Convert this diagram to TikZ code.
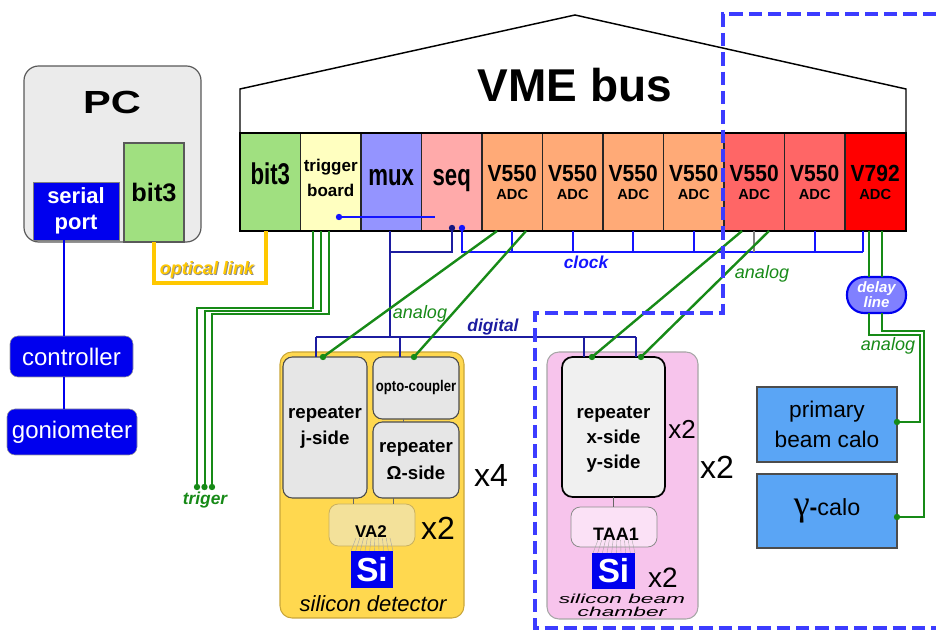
\documentclass[tikz,border=0pt]{standalone}
\usepackage{fontspec}
\setmainfont{Liberation Sans}
\newfontfamily\narrowf[FakeStretch=0.74]{Liberation Sans}
\newfontfamily\vfont[FakeStretch=0.9]{Liberation Sans}
\newfontfamily\optof[FakeStretch=0.85]{Liberation Sans}
\newfontfamily\serifg{Liberation Serif}
\usetikzlibrary{calc}
\newcommand{\setfs}[1]{\fontsize{#1}{#1}\selectfont}
\definecolor{pcgray}{HTML}{EBEBEB}
\definecolor{bitgreen}{HTML}{A0E080}
\definecolor{trigyellow}{HTML}{FFFFC0}
\definecolor{muxblue}{HTML}{9494FF}
\definecolor{seqpink}{HTML}{FFAAAA}
\definecolor{adcorange}{HTML}{FFAA77}
\definecolor{adcred}{HTML}{FF6666}
\definecolor{vred}{HTML}{FF0000}
\definecolor{serblue}{HTML}{0000EE}
\definecolor{wgreen}{HTML}{178A17}
\definecolor{navy}{HTML}{1C1CA0}
\definecolor{clockb}{HTML}{1414FF}
\definecolor{optyellow}{HTML}{FFC800}
\definecolor{detyellow}{HTML}{FFD84F}
\definecolor{detborder}{HTML}{C9A63A}
\definecolor{repgray}{HTML}{E6E6E6}
\definecolor{vatan}{HTML}{F3E19A}
\definecolor{vaborder}{HTML}{C8B060}
\definecolor{chpink}{HTML}{F7C4EC}
\definecolor{taapink}{HTML}{FBE1F6}
\definecolor{calob}{HTML}{5AA5F5}
\definecolor{delayb}{HTML}{8080FF}
\definecolor{dashb}{HTML}{3C3CFF}
\definecolor{xrepfill}{HTML}{F0F0F0}
\begin{document}
\begin{tikzpicture}[x=0.75pt,y=-0.75pt,
  every node/.style={inner sep=0pt,outer sep=0pt},
  slot/.style={draw=black!85,line width=0.9pt,minimum width=45.4pt,minimum height=73.5pt},
  bigtxt/.style={anchor=base,font=\narrowf\bfseries\setfs{22.5}},
  adctxt/.style={align=center,font=\bfseries\fontsize{11}{13.5}\selectfont},
  ctrlbox/.style={draw=black!40,fill=serblue,rounded corners=6pt,text=white,font=\setfs{18}},
  rep/.style={draw=black!70,line width=0.8pt,fill=repgray,rounded corners=7pt},
  sibox/.style={fill=serblue,text=white,font=\bfseries\setfs{25}},
  calo/.style={draw=black!70,line width=0.8pt,fill=calob,minimum width=105pt},
  digi/.style={draw=navy,line width=1.7pt},
  clk/.style={draw=clockb,line width=1.7pt},
  ana/.style={draw=wgreen,line width=1.8pt},
  trig/.style={draw=wgreen,line width=1.5pt},
  opt/.style={draw=optyellow,line width=2.6pt},
  serline/.style={draw=serblue,line width=1.9pt},
  thinc/.style={draw=black!60,line width=0.7pt},
  fan/.style={draw=black!35,line width=0.3pt},
  lbl/.style={font=\itshape\setfs{13.5},text=wgreen},
  mult/.style={font=\setfs{24}}]
\useasboundingbox (0,0) rectangle (936,630);

% ---------------- PC ----------------
\node[draw=black!65,line width=0.9pt,fill=pcgray,rounded corners=11pt,minimum width=132.75pt,minimum height=132pt] (pc) at (112.5,154) {};
\node[font=\bfseries\setfs{24}] (pct) at (112,102) {\scalebox{1.3}[1]{PC}};
\node[draw=black!50,line width=0.6pt,fill=serblue,minimum width=64.5pt,minimum height=43.5pt,text=white,align=center,font=\bfseries\fontsize{16.5}{19.5}\selectfont] (serial) at (76,211) {serial\\port};
\node[draw=black!65,line width=0.9pt,fill=bitgreen,minimum width=45pt,minimum height=74.25pt,font=\bfseries\setfs{19}] (pcbit) at (154,192.5) {bit3};

\node[ctrlbox,minimum width=92.25pt,minimum height=30.75pt] (ctrl) at (71.5,356.5) {controller};
\node[ctrlbox,minimum width=97.5pt,minimum height=34.5pt] (gonio) at (72,432) {goniometer};
\coordinate (serx) at (64,0);
\draw[serline] (serial.south -| serx) -- (ctrl.north -| serx);
\draw[serline] (ctrl.south -| serx) -- (gonio.north -| serx);

% ---------------- VME ----------------
\draw[line width=1.1pt,fill=white] (240,133) -- (240,89) -- (575,15) -- (906,89) -- (906,133);
\node[font=\bfseries\setfs{34.5}] (vme) at (575,85) {VME bus};

\node[slot,fill=bitgreen] (s1) at (270.25,182) {};
\node[slot,fill=trigyellow] (s2) at (330.75,182) {};
\node[slot,fill=muxblue] (s3) at (391.25,182) {};
\node[slot,fill=seqpink] (s4) at (451.75,182) {};
\node[slot,fill=adcorange] (s5) at (512.25,182) {};
\node[slot,fill=adcorange] (s6) at (572.75,182) {};
\node[slot,fill=adcorange] (s7) at (633.25,182) {};
\node[slot,fill=adcorange] (s8) at (693.75,182) {};
\node[slot,fill=adcred] (s9) at (754.25,182) {};
\node[slot,fill=adcred] (s10) at (814.75,182) {};
\node[slot,fill=vred] (s11) at (875.25,182) {};
\draw[line width=1.3pt] (240,133) rectangle (906,231);

\node[bigtxt] (t1) at (270.25,185) {bit3};
\node[align=center,font=\bfseries\fontsize{12.75}{18.4}\selectfont] (t2) at (330.75,178) {trigger\\board};
\node[bigtxt] (t3) at (391.25,185.5) {mux};
\node[bigtxt] (t4) at (451.75,186) {seq};
\foreach \i/\x in {5/512.25,6/572.75,7/633.25,8/693.75,9/754.25,10/814.75} {
  \node[adctxt] (v\i) at (\x,182.2) {{\vfont\setfs{17.5}V550}\\ADC};
}
\node[adctxt] (v11) at (875.25,182.2) {{\vfont\setfs{17.5}V792}\\ADC};

% trigger board internal line
\coordinate (tb1) at (339,217);
\coordinate (tb2) at (435,217);
\draw[clk] (tb1) -- (tb2);
\fill[clockb] (tb1) circle (2.4pt);

% ---------------- silicon detector ----------------
\node[draw=detborder,line width=0.8pt,fill=detyellow,rounded corners=9pt,minimum width=138pt,minimum height=199.5pt] (det) at (372,485) {};
\node[rep,minimum width=63pt,minimum height=105.75pt,align=center,font=\bfseries\fontsize{14}{20}\selectfont] (jrep) at (325,427.5) {repeater\\j-side};
\node[rep,minimum width=64.5pt,minimum height=46.5pt,font=\optof\bfseries\setfs{11.6}] (opto) at (416,388) {opto-coupler};
\node[rep,minimum width=64.5pt,minimum height=57pt,align=center,font=\bfseries\fontsize{14}{20}\selectfont] (orep) at (416,460) {repeater\\Ω-side};
\node[draw=vaborder,line width=0.6pt,fill=vatan,rounded corners=7pt,minimum width=64.5pt,minimum height=31.5pt] (va2) at (372,525) {};
\foreach \i in {0,...,9} \draw[fan] ({356+\i*34/9},538) -- ({351+\i*42/9},551);
\node[font=\bfseries\setfs{12.75}] (va2t) at (371,532) {VA2};
\node[sibox,minimum width=31.5pt,minimum height=27.75pt] (si1) at (372,569.5) {Si};
\node[font=\itshape\setfs{16.5}] (sdt) at (373,604) {silicon detector};
\node[mult] (x4) at (491,475) {x4};
\node[mult] (x2a) at (438,528) {x2};
\path ($(jrep.south)+(28,0)$) coordinate (q1);
\draw[thinc] (q1) -- (q1 |- va2.north);
\path ($(orep.south)+(-23,0)$) coordinate (q2);
\draw[thinc] (q2) -- (q2 |- va2.north);
\path ($(opto.south)+(-13,0)$) coordinate (q3);
\draw[thinc] (q3) -- (q3 |- orep.north);

% ---------------- beam chamber ----------------
\node[draw=black!35,line width=0.8pt,fill=chpink,rounded corners=9pt,minimum width=113.25pt,minimum height=200.25pt] (ch) at (622.5,485.5) {};
\node[draw=black,line width=1.3pt,fill=xrepfill,rounded corners=8pt,minimum width=77.25pt,minimum height=105pt] (xrep) at (613.5,427) {};
\node[align=center,font=\bfseries\fontsize{14}{18.75}\selectfont] (xrept) at (613.5,439) {repeater\\x-side\\y-side};
\node[draw=black!45,line width=0.6pt,fill=taapink,rounded corners=7pt,minimum width=64.5pt,minimum height=30pt] (taa) at (614,527) {};
\draw[thinc] (xrep.south) -- (xrep.south |- taa.north);
\foreach \i in {0,...,9} \draw[fan] ({598+\i*34/9},540) -- ({593+\i*42/9},553);
\node[font=\bfseries\setfs{13.5}] (taat) at (616,534) {TAA1};
\node[sibox,minimum width=32.25pt,minimum height=27pt] (si2) at (613.5,571) {Si};
\node[font=\itshape\setfs{9.75}] (cht1) at (622,599) {\scalebox{1.75}[1]{silicon beam}};
\node[font=\itshape\setfs{9.75}] (cht2) at (622,612) {\scalebox{1.75}[1]{chamber}};
\node[font=\setfs{19.5}] (x2b) at (682,429) {x2};
\node[mult] (x2c) at (717,467) {x2};
\node[font=\setfs{21}] (x2d) at (663,578) {x2};

% ---------------- calos & delay line ----------------
\node[calo,minimum height=56.25pt,align=center,font=\fontsize{17}{23}\selectfont] (primary) at (827,424.5) {primary\\beam calo};
\node[calo,minimum height=55.5pt,font=\setfs{17.5}] (gamma) at (827,511) {{\serifg\setfs{27}γ}{\bfseries -}calo};
\node[draw=serblue,line width=1.6pt,fill=delayb,rounded corners=13pt,minimum width=44.25pt,minimum height=27pt,text=white,align=center,font=\bfseries\itshape\fontsize{11.25}{11.25}\selectfont] (delay) at (876.5,295) {delay\\line};

% ---------------- digital wiring ----------------
\coordinate (sq1) at (452,228);
\coordinate (sq2) at (462,228);
\coordinate (dgk) at (390,252);
\coordinate (muxb) at (390,231);
\coordinate (dmux) at (390,337);
\coordinate (dbusL) at (316,337);
\coordinate (dbusR) at (636,337);
\coordinate (dopt) at (400,337);
\coordinate (dx1) at (584,337);
\draw[digi] (sq1) |- (dgk);
\draw[digi] (muxb) -- (dmux);
\draw[digi] (dbusL) -- (dbusR);
\draw[digi] (dbusL) -- (dbusL |- jrep.north);
\draw[digi] (dopt) -- (dopt |- opto.north);
\draw[digi] (dx1) -- (dx1 |- xrep.north);
\draw[digi] (dbusR) -- (dbusR |- xrep.north);
\fill[navy!80!black] (sq1) circle (2.4pt);
\node[font=\bfseries\itshape\setfs{13},text=navy] (digl) at (493,327) {digital};

% ---------------- clock ----------------
\coordinate (clkR) at (863,252);
\draw[clk] (sq2) |- (clkR);
\foreach \s in {s5,s6,s7,s8,s10} \draw[clk] (\s.south) -- (\s.south |- clkR);
\draw[clk,draw=gray] (s9.south) -- (s9.south |- clkR);
\draw[clk] (clkR |- s11.south) -- (clkR);
\fill[clockb] (sq2) circle (2.4pt);
\node[font=\bfseries\itshape\setfs{13},text=clockb] (clkl) at (586,262) {clock};

% ---------------- analog ----------------
\coordinate (an1) at (497,231);
\coordinate (an2) at (526,231);
\coordinate (an3) at (742,231);
\coordinate (an4) at (769,231);
\path ($(jrep.north)+(-2,0)$) coordinate (jd);
\path ($(opto.north)+(-2,0)$) coordinate (od);
\path ($(xrep.north)+(-21.5,0)$) coordinate (xd1);
\path ($(xrep.north)+(27.5,0)$) coordinate (xd2);
\draw[ana] (an1) -- (jd);
\draw[ana] (an2) -- (od);
\draw[ana] (an3) -- (xd1);
\draw[ana] (an4) -- (xd2);
\foreach \p in {jd,od,xd1,xd2} \fill[wgreen] (\p) circle (2.4pt);
\node[lbl] (anl1) at (420,314) {analog};
\node[lbl] (anl2) at (762,274) {analog};
\node[lbl] (anl3) at (888,346) {analog};

% V792 -> delay line -> calos
\coordinate (g1) at (869,0);
\coordinate (g2) at (882,0);
\draw[ana] (g1 |- s11.south) -- (g1 |- delay.north);
\draw[ana] (g2 |- s11.south) -- (g2 |- delay.north);
\path ($(gamma.east)+(0,6)$) coordinate (gE);
\path ($(primary.east)+(0,-2.5)$) coordinate (pE);
\draw[ana] (g1 |- delay.south) |- (920,335) |- (pE);
\draw[ana] (g2 |- delay.south) |- (924,331) |- (gE);
\fill[wgreen] (gE) circle (2.4pt);
\fill[wgreen] (pE) circle (2.4pt);

% ---------------- trigger ----------------
\foreach \xa/\ya/\xb in {313/308/197, 321/311/204.5, 329/314/212} {
  \draw[trig] (\xa,231) |- (\xb,\ya) -- (\xb,487);
  \fill[wgreen] (\xb,487) circle (2.4pt);
}
\node[font=\bfseries\itshape\setfs{13},text=wgreen] (trl) at (205,500) {triger};

% ---------------- optical link ----------------
\coordinate (optc) at (266,283);
\draw[opt] (pcbit.south) |- (optc) -- (optc |- s1.south);
\node[font=\bfseries\itshape\setfs{13.5},text=black!45] (optsh) at (208,271) {optical link};
\node[font=\bfseries\itshape\setfs{13.5},text=optyellow] (optt) at (207,270) {optical link};

% ---------------- dashed region ----------------
\draw[dashb,line width=2.8pt,dash pattern=on 10pt off 4.5pt] (936,14) -- (723,14) -- (723,313) -- (535,313) -- (535,628) -- (936,628);
\end{tikzpicture}
\end{document}
